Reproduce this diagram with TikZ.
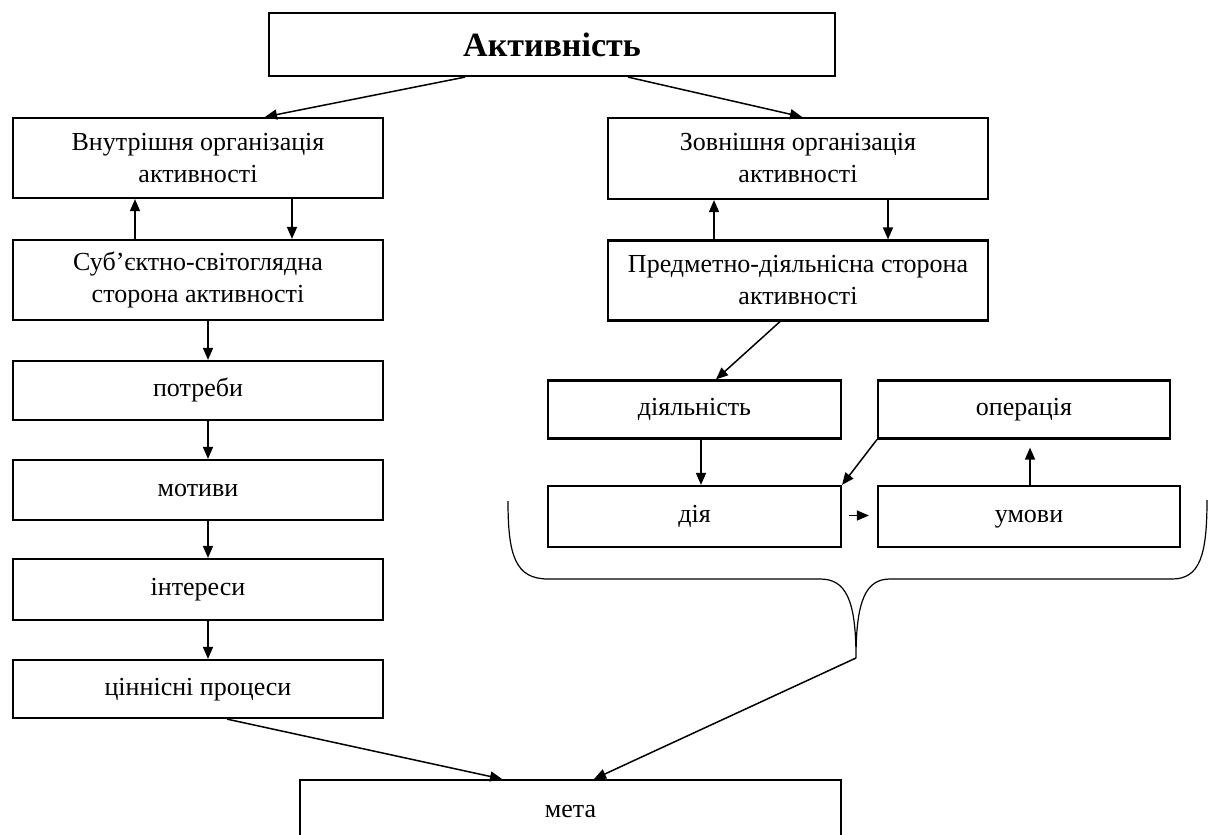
\documentclass[tikz,border=0pt]{standalone}
\usepackage{fontspec}
\setmainfont{Liberation Serif}
\usepackage{tikz}
\usetikzlibrary{calc, arrows.meta}

\tikzset{
	box/.style = {draw, line width = 2.2pt, inner sep = 0pt, align = center, font = \fontsize{26}{32}\selectfont},
	one/.style = {box, text height = 18pt, text depth = 6pt},
	link/.style = {line width = 1.5pt, -{Triangle[length = 12pt, width = 10pt]}},
}

\begin{document}
\begin{tikzpicture}[x = 1pt, y = -1pt]
					\def\wL{370};
					\def\wR{380};
					\def\wS{293};

					\useasboundingbox (0,0) rectangle (1208,835);

					\begin{scope}
						\node [box, minimum width = 566, minimum height = 63, text height = 23pt, text depth = 0pt, font = \fontsize{34}{40}\selectfont\bfseries] (act) at (552,44.5) {Активність};

						\node [box, minimum width = \wL, minimum height = 80] (inner) at (198,158) {Внутрішня організація\\активності};
						\node [box, minimum width = \wL, minimum height = 80] (subj) at (198,280) {Суб’єктно-світоглядна\\сторона активності};
						\node [one, minimum width = \wL, minimum height = 59] (needs) at (198,390.5) {потреби};
						\node [one, minimum width = \wL, minimum height = 60] (motives) at (198,490) {мотиви};
						\node [one, minimum width = \wL, minimum height = 61] (interests) at (198,589.5) {інтереси};
						\node [one, minimum width = \wL, minimum height = 58] (values) at (198,689) {ціннісні процеси};

						\node [box, minimum width = \wR, minimum height = 81] (outer) at (798,158.5) {Зовнішня організація\\активності};
						\node [box, minimum width = \wR, minimum height = 80] (object) at (798,280.5) {Предметно-діяльнісна сторона\\активності};

						\node [one, minimum width = \wS, minimum height = 58] (activity) at (694.5,409.5) {діяльність};
						\node [one, minimum width = 292, minimum height = 58] (oper) at (1024,409.5) {операція};
						\node [one, minimum width = \wS, minimum height = 61] (action) at (694.5,516.5) {дія};
						\node [one, minimum width = 302, minimum height = 61] (cond) at (1029,516.5) {умови};

						\node [one, minimum width = 541, minimum height = 62, anchor = north] (goal) at (570.5,779) {мета};
					\end{scope}

					\begin{scope}[line width = 1.2pt]
						\coordinate (tip) at (856,658);
						\draw (508,501) .. controls (508,555) and (515,579) .. (548,579) -- (820,579) .. controls (846,579) and (856,600) .. (tip) .. controls (856,600) and (866,579) .. (890,579) -- (1172,579) .. controls (1200,579) and (1207,555) .. (1207,500);
					\end{scope}

					\begin{scope}[link]
						\draw ([xshift = -87]act.south) -- ([xshift = 67]inner.north);
						\draw ([xshift = 76]act.south) -- ([xshift = 4]outer.north);

						\draw ([xshift = -63]subj.north) -- ([xshift = -63]inner.south);
						\draw ([xshift = 94]inner.south) -- ([xshift = 94]subj.north);
						\draw ([xshift = -84]object.north) -- ([xshift = -84]outer.south);
						\draw ([xshift = 90]outer.south) -- ([xshift = 90]object.north);

						\draw ([xshift = 10]subj.south) -- ([xshift = 10]needs.north);
						\draw ([xshift = 10]needs.south) -- ([xshift = 10]motives.north);
						\draw ([xshift = 10]motives.south) -- ([xshift = 10]interests.north);
						\draw ([xshift = 10]interests.south) -- ([xshift = 10]values.north);

						\draw ([xshift = -18]object.south) -- ([xshift = 21.5]activity.north);
						\draw ([xshift = 6.5]activity.south) -- ([xshift = 6.5]action.north);
						\draw (oper.south west) -- (action.north east);
						\draw [shorten < = 7pt, shorten > = 8pt] ([yshift = 1]action.east) -- ([yshift = 1]cond.west);
						\draw [shorten > = 8pt] ([xshift = 1]cond.north) -- ([xshift = 1]cond.north |- oper.south);

						\draw ([xshift = 29]values.south) -- ([xshift = -68.5]goal.north);
						\draw (tip) -- ([xshift = 23.5]goal.north);
					\end{scope}
\end{tikzpicture}
\end{document}
